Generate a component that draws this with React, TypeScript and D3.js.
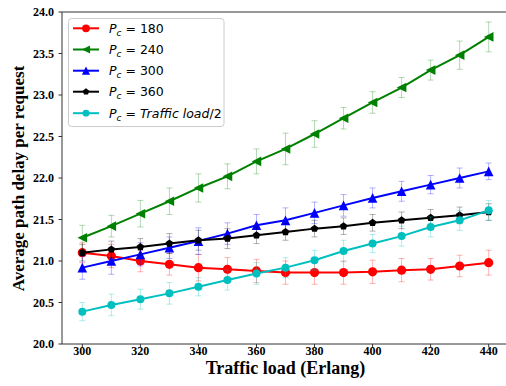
import React from "react";
import * as d3 from "d3";

const loads = [300, 310, 320, 330, 340, 350, 360, 370, 380, 390, 400, 410, 420, 430, 440];
const pc180 = [21.1, 21.06, 21.0, 20.96, 20.92, 20.9, 20.88, 20.86, 20.86, 20.86, 20.87, 20.89, 20.9, 20.94, 20.98];
const pc180Err = [0.12, 0.14, 0.13, 0.13, 0.16, 0.14, 0.14, 0.14, 0.14, 0.14, 0.14, 0.14, 0.13, 0.13, 0.15];
const pc240 = [21.28, 21.42, 21.57, 21.72, 21.88, 22.02, 22.2, 22.35, 22.53, 22.72, 22.91, 23.09, 23.3, 23.48, 23.7];
const pc240Err = [0.15, 0.13, 0.16, 0.16, 0.17, 0.15, 0.15, 0.19, 0.16, 0.13, 0.13, 0.12, 0.12, 0.17, 0.18];
const pc300 = [20.92, 21.0, 21.08, 21.16, 21.24, 21.33, 21.43, 21.49, 21.58, 21.67, 21.76, 21.84, 21.92, 22.0, 22.08];
const pc300Err = [0.14, 0.16, 0.14, 0.13, 0.16, 0.13, 0.13, 0.15, 0.13, 0.13, 0.12, 0.12, 0.11, 0.12, 0.1];
const pc360 = [21.1, 21.14, 21.17, 21.21, 21.25, 21.27, 21.31, 21.35, 21.39, 21.42, 21.46, 21.49, 21.52, 21.55, 21.59];
const pc360Err = [0.1, 0.1, 0.1, 0.12, 0.12, 0.12, 0.1, 0.1, 0.1, 0.1, 0.1, 0.1, 0.1, 0.1, 0.1];
const pcHalf = [20.39, 20.47, 20.54, 20.61, 20.69, 20.77, 20.85, 20.92, 21.01, 21.12, 21.21, 21.3, 21.41, 21.49, 21.61];
const pcHalfErr = [0.11, 0.13, 0.12, 0.13, 0.11, 0.12, 0.13, 0.12, 0.12, 0.13, 0.11, 0.12, 0.12, 0.12, 0.12];

const xTicks = [300, 320, 340, 360, 380, 400, 420, 440];
const yTicks = [20.0, 20.5, 21.0, 21.5, 22.0, 22.5, 23.0, 23.5, 24.0];

type Marker = "circle" | "triLeft" | "triUp" | "pentagon" | "smallCircle";
const series: { label: string; values: number[]; errs: number[]; color: string; marker: Marker }[] = [
  { label: "180", values: pc180, errs: pc180Err, color: "#ff0000", marker: "circle" },
  { label: "240", values: pc240, errs: pc240Err, color: "#008000", marker: "triLeft" },
  { label: "300", values: pc300, errs: pc300Err, color: "#0000ff", marker: "triUp" },
  { label: "360", values: pc360, errs: pc360Err, color: "#000000", marker: "pentagon" },
  { label: "half", values: pcHalf, errs: pcHalfErr, color: "#00bfbf", marker: "smallCircle" },
];

const W = 506, H = 386;
const x = d3.scaleLinear().domain([293, 447]).range([62, 509]);
const y = d3.scaleLinear().domain([20, 24]).range([344, 12]);

function MarkerShape({ kind, cx, cy, color, k = 1 }: { kind: Marker; cx: number; cy: number; color: string; k?: number }) {
  if (kind === "circle") return <circle cx={cx} cy={cy} r={4.6 * k} fill={color} />;
  if (kind === "smallCircle") return <circle cx={cx} cy={cy} r={4 * k} fill={color} />;
  if (kind === "triLeft") {
    const s = 4.8 * k;
    return <polygon points={`${cx - s},${cy} ${cx + s},${cy - s} ${cx + s},${cy + s}`} fill={color} />;
  }
  if (kind === "triUp") {
    const s = 4.8 * k;
    return <polygon points={`${cx},${cy - s} ${cx + s},${cy + s} ${cx - s},${cy + s}`} fill={color} />;
  }
  const r = 4 * k;
  const pts = d3.range(5).map((i) => {
    const a = -Math.PI / 2 + (i * 2 * Math.PI) / 5;
    return `${cx + r * Math.cos(a)},${cy + r * Math.sin(a)}`;
  });
  return <polygon points={pts.join(" ")} fill={color} />;
}

export default function App() {
  const line = d3
    .line<number>()
    .x((_, i) => x(loads[i]))
    .y((d) => y(d));
  const serif = "'Liberation Serif', 'Times New Roman', serif";
  const sans = "'DejaVu Sans', sans-serif";
  const legendYs = [28.3, 49.5, 70.7, 91.7, 113.2];
  return (
    <svg width={W} height={H} style={{ position: "absolute", left: 0, top: 0, background: "#fff" }}>
      <rect x={0} y={0} width={W} height={H} fill="#fff" />
      {series.map((s) => (
        <g key={s.label}>
          {s.values.map((v, i) => {
            const cx = x(loads[i]);
            const y1 = y(v + s.errs[i]);
            const y2 = y(v - s.errs[i]);
            return (
              <g key={i} stroke={s.color} strokeOpacity={0.3} strokeWidth={1}>
                <line x1={cx} x2={cx} y1={y1} y2={y2} />
                <line x1={cx - 3} x2={cx + 3} y1={y1} y2={y1} />
                <line x1={cx - 3} x2={cx + 3} y1={y2} y2={y2} />
              </g>
            );
          })}
          <path d={line(s.values) || ""} fill="none" stroke={s.color} strokeWidth={2} />
          {s.values.map((v, i) => (
            <MarkerShape key={i} kind={s.marker} cx={x(loads[i])} cy={y(v)} color={s.color} />
          ))}
        </g>
      ))}
      {/* spines */}
      <line x1={62} x2={62} y1={12} y2={344} stroke="#333" strokeWidth={1} />
      <line x1={62} x2={509} y1={344} y2={344} stroke="#333" strokeWidth={1} />
      <line x1={62} x2={509} y1={12} y2={12} stroke="#333" strokeWidth={1} />
      {/* x ticks */}
      {xTicks.map((t) => (
        <g key={t}>
          <line x1={x(t)} x2={x(t)} y1={344} y2={347.5} stroke="#333" />
          <text x={x(t)} y={354.5} textAnchor="middle" fontFamily={serif} fontWeight="bold" fontSize={12}>
            {t}
          </text>
        </g>
      ))}
      {yTicks.map((t) => (
        <g key={t}>
          <line x1={58.5} x2={62} y1={y(t)} y2={y(t)} stroke="#333" />
          <text x={54} y={y(t) + 4} textAnchor="end" fontFamily={serif} fontWeight="bold" fontSize={12}>
            {t.toFixed(1)}
          </text>
        </g>
      ))}
      <text x={285.5} y={374} textAnchor="middle" fontFamily={serif} fontWeight="bold" fontSize={18}>
        Traffic load (Erlang)
      </text>
      <text
        transform={`translate(23.5,178.5) rotate(-90)`}
        textAnchor="middle"
        fontFamily={serif}
        fontWeight="bold"
        fontSize={17}
      >
        Average path delay per request
      </text>
      {/* legend */}
      <rect x={68.5} y={18.5} width={155.5} height={108} rx={3} fill="#fff" fillOpacity={0.8} stroke="#ccc" />
      {series.map((s, i) => {
        const ly = legendYs[i];
        return (
          <g key={s.label}>
            <line x1={73} x2={99} y1={ly} y2={ly} stroke={s.color} strokeWidth={2} />
            <MarkerShape kind={s.marker} cx={86} cy={ly} color={s.color} k={0.85} />
            <text x={109} y={ly + 4.5} fontFamily={sans} fontSize={12.5}>
              <tspan fontStyle="italic">P</tspan>
              <tspan fontStyle="italic" fontSize={9} dy={3}>c</tspan>
              <tspan dy={-3}>{" = "}</tspan>
              {s.label === "half" ? (
                <>
                  <tspan fontStyle="italic">Traffic load</tspan>
                  <tspan>/2</tspan>
                </>
              ) : (
                <tspan>{s.label}</tspan>
              )}
            </text>
          </g>
        );
      })}
    </svg>
  );
}
